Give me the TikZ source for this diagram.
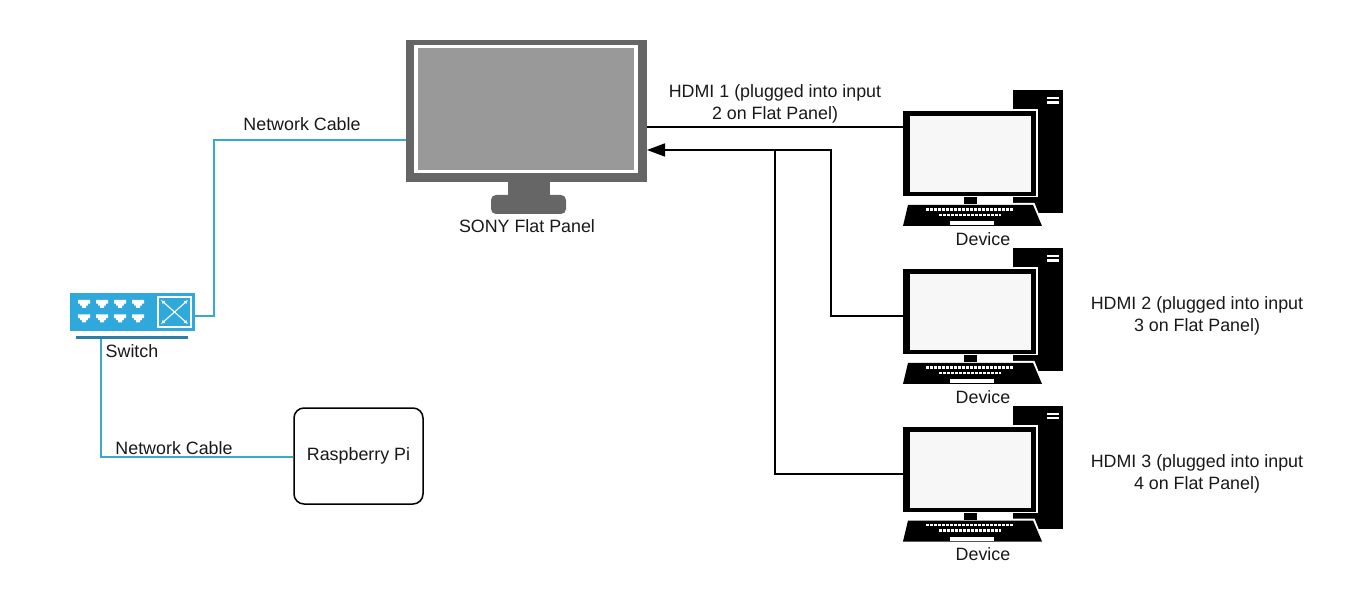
\documentclass[tikz,border=0pt]{standalone}
\usepackage{fontspec}
\setmainfont{Liberation Sans}
\usetikzlibrary{arrows.meta}
\definecolor{cable}{HTML}{3BA9CB}
\definecolor{swblue}{HTML}{2FA8DC}
\definecolor{swbar}{HTML}{2C7FA8}
\definecolor{frameg}{HTML}{666666}
\definecolor{screeng}{HTML}{999999}
\definecolor{screenw}{HTML}{F7F7F7}
\tikzset{
  lbl/.style={inner sep=0pt,font=\fontsize{17.85}{22}\selectfont,align=center,text=black!90},
  netline/.style={draw=cable,line width=1.7pt},
  hdmi/.style={draw=black,line width=1.6pt},
  pibox/.style={draw=black,line width=1.5pt,rounded corners=10pt,inner sep=0pt,minimum width=129pt,minimum height=96pt},
  port/.pic={\fill[white] (-6,-4.2) -- (6,-4.2) -- (6,-0.4) -- (3.8,-0.4) -- (3.8,1.6) -- (2,1.6) -- (2,4) -- (-2,4) -- (-2,1.6) -- (-3.8,1.6) -- (-3.8,-0.4) -- (-6,-0.4) -- cycle;},
  device/.pic={
    \fill[black] (1013,90) rectangle (1063,213);
    \fill[white] (1047,97) rectangle (1059,99.2);
    \fill[white] (1047,101.5) rectangle (1059,103.7);
    \fill[white] (901,109.5) rectangle (1038,197.5);
    \fill[black] (903,111) rectangle (1036,196);
    \fill[screenw] (910,116) rectangle (1031,192);
    \fill[black] (964,197) rectangle (977,204);
    \fill[white] (1013,203) -- (1034.5,203) -- (1044,227) -- (1013,227) -- cycle;
    \fill[black] (908,205) -- (1033,205) -- (1042,226) -- (903,226) -- cycle;
    \fill[white] (950,221) rectangle (994,225);
    \draw[white,line width=2.8pt,dash pattern=on 2.8pt off 1.2pt] (926,209.5) -- (1013,209.5);
    \draw[white,line width=2.8pt,dash pattern=on 2.8pt off 1.2pt] (939,215) -- (1001,215);
  }
}
\begin{document}
\begin{tikzpicture}[x=1pt,y=-1pt]
\useasboundingbox[fill=white] (0,0) rectangle (1350,612);

% flat panel
\fill[frameg] (508,182) rectangle (550,198);
\fill[frameg,rounded corners=5pt] (491,195) rectangle (566,214);
\node[fill=frameg,inner sep=0pt,minimum width=241pt,minimum height=142pt] (panel) at (526.5,111) {};
\fill[white] (414,45) rectangle (638,173);
\fill[screeng] (418,48) rectangle (634,170);
\coordinate (panelNet) at (406,140);
\coordinate (panelIn1) at (647,127);
\coordinate (panelIn2) at (647,150);
\node[lbl] (panelLabel) at (527,226.5) {SONY Flat Panel};

% devices
\pic at (0,0) {device};
\pic at (0,158) {device};
\pic at (0,315.5) {device};
\coordinate (dev1) at (903,127);
\coordinate (dev2) at (903,316);
\coordinate (dev3) at (903,474);
\coordinate (j2a) at (831,316);
\coordinate (j2b) at (831,150);
\coordinate (j3a) at (775,474);
\coordinate (j3b) at (775,150);
\node[lbl] (dev1Label) at (983,239) {Device};
\node[lbl] (dev2Label) at (983,397) {Device};
\node[lbl] (dev3Label) at (983,554.5) {Device};

% switch
\node[fill=swblue,inner sep=0pt,minimum width=125pt,minimum height=38pt] (switch) at (132.5,312) {};
\fill[swbar] (76,336) rectangle (188,339);
\foreach \x in {84,102,120,138} {
  \pic at (\x,304) {port};
  \pic at (\x,318.5) {port};
}
\draw[white,line width=1.1pt] (158,297) rectangle (191,327);
\draw[white,line width=1.1pt,{Latex[length=4pt,width=4pt]}-{Latex[length=4pt,width=4pt]}] (161,300) -- (188,324);
\draw[white,line width=1.1pt,{Latex[length=4pt,width=4pt]}-{Latex[length=4pt,width=4pt]}] (161,324) -- (188,300);
\node[lbl] (switchLabel) at (132,351) {Switch};
\coordinate (swRight) at (195,316);
\coordinate (swBottom) at (101,339);

% raspberry pi
\node[pibox,font=\fontsize{17.85}{22}\selectfont,text=black!90] (pi) at (358.5,456) {Raspberry Pi};

% network connectors
\draw[netline] (swRight) -- (214,316) -- (214,140) -- (panelNet);
\draw[netline] (swBottom) |- (pi.west |- 0,457);
\node[lbl] (net1) at (302,124.5) {Network Cable};
\node[lbl] (net2) at (174,448) {Network Cable};

% hdmi connectors
\draw[hdmi] (dev1) -- (panelIn1);
\draw[hdmi] (dev3) -- (j3a) -- (j3b);
\draw[hdmi,-{Triangle[length=18pt,width=13pt]}] (dev2) -- (j2a) -- (j2b) -- (panelIn2);

\node[lbl] (h1) at (775,104) {HDMI 1 (plugged into input\\2 on Flat Panel)};
\node[lbl] (h2) at (1197,316) {HDMI 2 (plugged into input\\3 on Flat Panel)};
\node[lbl] (h3) at (1197,474) {HDMI 3 (plugged into input\\4 on Flat Panel)};
\end{tikzpicture}
\end{document}
